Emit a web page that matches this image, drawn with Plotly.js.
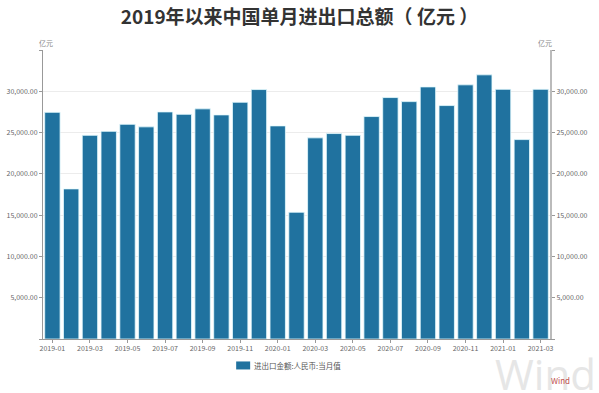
<!DOCTYPE html>
<html>
<head>
<meta charset="utf-8">
<script src="https://cdn.plot.ly/plotly-3.0.1.min.js"></script>
<style>html,body{margin:0;padding:0;background:#fff;}#chart{width:599px;height:393px;}</style>
</head>
<body>
<div id="chart"></div>
<script>
const months = ["2019-01","2019-02","2019-03","2019-04","2019-05","2019-06","2019-07","2019-08","2019-09","2019-10","2019-11","2019-12",
  "2020-01","2020-02","2020-03","2020-04","2020-05","2020-06","2020-07","2020-08","2020-09","2020-10","2020-11","2020-12",
  "2021-01","2021-02","2021-03"];
const values = [27450, 18180, 24670, 25150, 26000, 25690, 27500, 27210, 27870, 27140, 28670, 30210,
  25810, 15350, 24360, 24880, 24670, 26940, 29240, 28750, 30530, 28270, 30780, 31990,
  30240, 24150, 30240];
const tickMonths = months.filter((m, i) => i % 2 === 0);
const yTickVals = [0, 5000, 10000, 15000, 20000, 25000, 30000, 35000];
const yTickText = ["", "5,000.00", "10,000.00", "15,000.00", "20,000.00", "25,000.00", "30,000.00", ""];
const seriesName = "进出口金额:人民币:当月值";
const titleText = "2019年以来中国单月进出口总额（ 亿元 ）";
const unit = "亿元";

const font = "Noto Sans CJK SC, Noto Sans, sans-serif";
const barColor = "#20729f";
const data = [
  {type: "bar", x: months, y: values, name: seriesName,
   marker: {color: barColor, line: {color: "#e6fbff", width: 0.8}},
   showlegend: false},
  {type: "bar", x: months, y: values, yaxis: "y2", showlegend: false, opacity: 0, hoverinfo: "skip"}
];
const yCommon = {
  range: [0, 35000], tickvals: yTickVals, ticktext: yTickText,
  tickfont: {size: 7, color: "#666", family: font},
  ticks: "outside", ticklen: 3, tickcolor: "#999",
  showline: true, zeroline: false
};
const layout = {
  width: 599, height: 393,
  margin: {l: 43, r: 49, t: 50, b: 54, autoexpand: false},
  paper_bgcolor: "#fff", plot_bgcolor: "#fff",
  title: {text: "<b>" + titleText + "</b>", x: 0.5, xanchor: "center", y: 0.957, yanchor: "middle",
    font: {size: 19, color: "#333", family: font}},
  bargap: 0.18,
  barmode: "overlay",
  showlegend: false,
  xaxis: {type: "category", tickvals: tickMonths, ticktext: tickMonths,
    tickfont: {size: 7, color: "#666", family: font}, tickangle: 0,
    showline: true, linecolor: "#999", linewidth: 1, ticks: "outside", ticklen: 3, tickcolor: "#999",
    showgrid: false},
  yaxis: Object.assign({}, yCommon, {side: "left", linecolor: "#999", linewidth: 1, showgrid: true, gridcolor: "#ececec", gridwidth: 1}),
  yaxis2: Object.assign({}, yCommon, {side: "right", overlaying: "y", linecolor: "#bbb", linewidth: 2, showgrid: false}),
  shapes: [
    {type: "rect", xref: "paper", yref: "paper", x0: 0.381, x1: 0.4086, y0: -0.0777, y1: -0.1054,
      fillcolor: barColor, line: {width: 0}}
  ],
  annotations: [
    {text: seriesName, xref: "paper", yref: "paper", x: 0.4126, y: -0.0915, xanchor: "left", yanchor: "middle", showarrow: false,
      font: {size: 7.5, color: "#555", family: font}},
    {text: unit, xref: "paper", yref: "paper", x: 0, y: 1, xshift: -6, yshift: 14, showarrow: false,
      font: {size: 7, color: "#888", family: font}},
    {text: unit, xref: "paper", yref: "paper", x: 1, y: 1, xshift: 4, yshift: 14, showarrow: false,
      font: {size: 7, color: "#888", family: font}},
    {text: "Wind", xref: "paper", yref: "paper", x: 1.095, y: -0.12, xanchor: "right", yanchor: "middle", showarrow: false,
      font: {size: 42, color: "#e6e6e6", family: "Open Sans, sans-serif"}},
    {text: "Wind", xref: "paper", yref: "paper", x: 1.02, y: -0.145, xanchor: "center", yanchor: "middle", showarrow: false,
      font: {size: 8, color: "#c0504d", family: font}}
  ]
};
Plotly.newPlot("chart", data, layout, {displayModeBar: false, staticPlot: true});
</script>
</body>
</html>
